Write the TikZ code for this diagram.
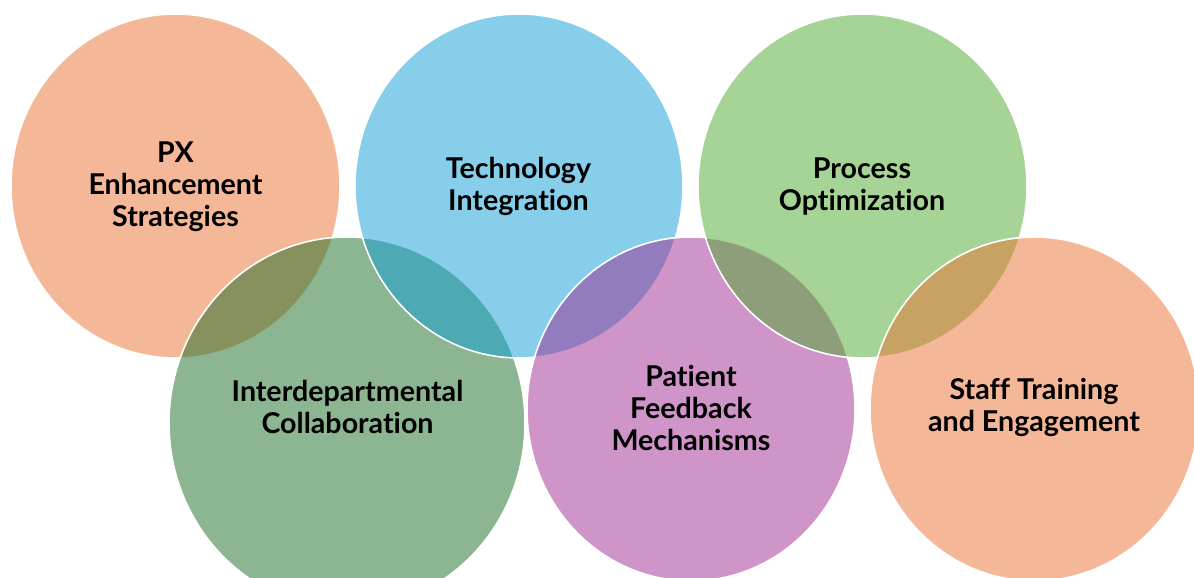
\documentclass[tikz,border=0pt]{standalone}
\usepackage{fontspec}
\setmainfont{Lato}[Ligatures={NoCommon,NoRequired,NoContextual}]
\usepackage{tikz}

\definecolor{accorange}{HTML}{E97132}
\definecolor{accdkgreen}{HTML}{196B24}
\definecolor{accblue}{HTML}{0F9ED5}
\definecolor{accpurple}{HTML}{A02B93}
\definecolor{accgreen}{HTML}{4EA72E}

\tikzset{
    bubble/.style = {fill=#1, fill opacity=0.5, draw=white, draw opacity=1, line width=0.9pt},
    label/.style = {align=center, font={\fontsize{16.3}{18.2}\selectfont\bfseries}, black}
}

\begin{document}
\begin{tikzpicture}
        \useasboundingbox (0, 0) rectangle (23.88, 11.54);
        \clip (0, 0) rectangle (23.88, 11.54);

        % bubbles, back to front
        \draw[bubble=accorange] (3.51, 7.82) ellipse (3.29 and 3.44);
        \draw[bubble=accdkgreen] (6.94, 3.08) ellipse (3.56 and 3.72);
        \draw[bubble=accblue] (10.38, 7.82) ellipse (3.28 and 3.44);
        \draw[bubble=accpurple] (13.82, 3.36) ellipse (3.28 and 3.44);
        \draw[bubble=accgreen] (17.25, 7.82) ellipse (3.29 and 3.44);
        \draw[bubble=accorange] (20.69, 3.36) ellipse (3.29 and 3.44);

        % top row
        \node[label] (px) at (3.51, 7.80) {PX\\Enhancement\\Strategies};
        \node[label] (tech) at (10.37, 7.82) {Technology\\Integration};
        \node[label] (proc) at (17.24, 7.80) {Process\\Optimization};

        % bottom row
        \node[label] (inter) at (6.95, 3.40) {Interdepartmental\\Collaboration};
        \node[label] (patient) at (13.82, 3.38) {Patient\\Feedback\\Mechanisms};
        \node[label] (staff) at (20.68, 3.40) {Staff Training\\and Engagement};

    \end{tikzpicture}
\end{document}
